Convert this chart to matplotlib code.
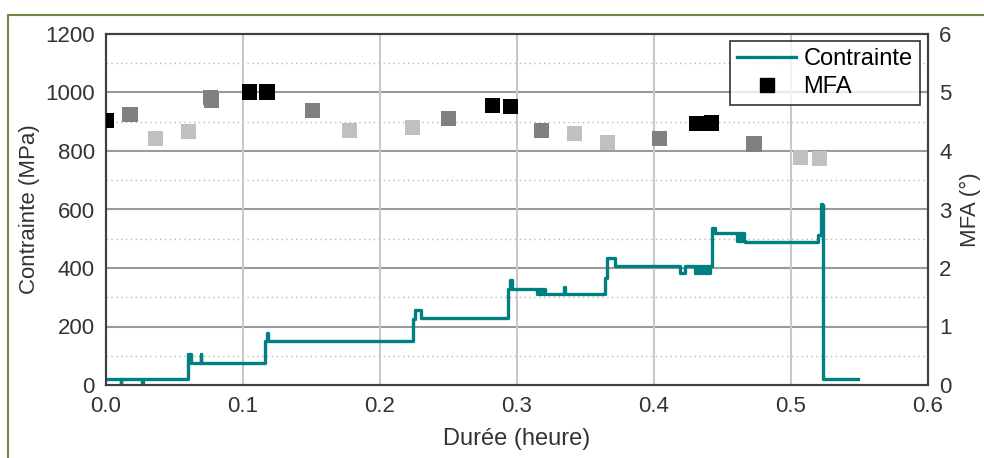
import numpy as np
import matplotlib
matplotlib.use("Agg")
import matplotlib.pyplot as plt
from matplotlib.lines import Line2D
from matplotlib.patches import Rectangle

plt.rcParams['font.family'] = ['Liberation Sans', 'DejaVu Sans']

# Contrainte (MPa), step series: value holds from t[i] to t[i+1]
temps = [0.0, 0.0107, 0.0112, 0.0265, 0.0270, 0.0600, 0.0617, 0.0691, 0.0697,
         0.1160, 0.1173, 0.1180, 0.2243, 0.2255, 0.2299,
         0.2937, 0.2950, 0.2962,
         0.3143, 0.3150, 0.3158, 0.3166, 0.3174, 0.3182, 0.3190, 0.3198, 0.3204,
         0.3343, 0.3350, 0.3642, 0.3660, 0.3715,
         0.4190, 0.4226,
         0.4300, 0.4310, 0.4320, 0.4330, 0.4345, 0.4360, 0.4375, 0.4390, 0.4400, 0.4409,
         0.4420, 0.4445,
         0.4608, 0.4616, 0.4624, 0.4632, 0.4640, 0.4648, 0.4656, 0.4664,
         0.5200, 0.5216, 0.5225, 0.5230, 0.5236, 0.5486]
contrainte = [20, 2, 20, 2, 20, 105, 75, 105, 75,
              150, 178, 150, 226, 257, 229,
              328, 360, 328,
              310, 328, 310, 328, 310, 328, 310, 328, 310,
              335, 310, 366, 434, 408,
              383, 408,
              383, 408, 383, 408, 383, 408, 383, 408, 383, 408,
              538, 518,
              491, 518, 491, 518, 491, 518, 491, 490,
              514, 620, 600, 615, 20, 20]

# MFA (deg) measurements, with grey level of each marker
mfa_t = [0.0, 0.0175, 0.036, 0.060, 0.0765, 0.077, 0.105, 0.1175, 0.151, 0.178,
         0.224, 0.250, 0.282, 0.2955, 0.318, 0.342, 0.366, 0.404, 0.431, 0.442,
         0.473, 0.507, 0.521]
mfa = [4.52, 4.62, 4.21, 4.33, 4.92, 4.86, 5.01, 5.01, 4.69, 4.35,
       4.40, 4.55, 4.78, 4.76, 4.35, 4.30, 4.14, 4.21, 4.47, 4.48,
       4.12, 3.89, 3.87]
mfa_gris = ['#000000', '#808080', '#c0c0c0', '#c0c0c0', '#808080', '#808080',
            '#000000', '#000000', '#808080', '#c0c0c0', '#c0c0c0', '#808080',
            '#000000', '#000000', '#808080', '#c0c0c0', '#c0c0c0', '#808080',
            '#000000', '#000000', '#808080', '#c0c0c0', '#c0c0c0']

teal = '#008080'
txt = '#333333'

fig = plt.figure(figsize=(9.84, 4.58), dpi=100)
ax = fig.add_axes([106/984, 1-385/458, (928-106)/984, (385-34)/458])

# grid
for yv in np.arange(100, 1200, 200):
    ax.axhline(yv, color='#b8b8b8', lw=1.0, ls=(0, (1, 2.5)), zorder=0)
for yv in np.arange(200, 1200, 200):
    ax.axhline(yv, color='#9a9a9a', lw=1.5, zorder=0)
for xv in np.arange(0.1, 0.6, 0.1):
    ax.axvline(xv, color='#c8c8c8', lw=1.5, zorder=0)

ax.plot(temps, contrainte, drawstyle='steps-post', color=teal, lw=2.4, zorder=3)

ax.set_xlim(0, 0.6)
ax.set_ylim(0, 1200)
ax.set_xticks(np.arange(0, 0.61, 0.1))
ax.set_xticklabels(['0.0', '0.1', '0.2', '0.3', '0.4', '0.5', '0.6'])
ax.set_yticks(np.arange(0, 1201, 200))
ax.tick_params(length=0, labelsize=16, colors=txt, pad=8)
ax.set_xlabel('Durée (heure)', fontsize=17, color=txt, labelpad=8)
ax.set_ylabel('Contrainte (MPa)', fontsize=16, color=txt, labelpad=4)
for sp in ax.spines.values():
    sp.set_color('#404040')
    sp.set_linewidth(1.5)

ax2 = ax.twinx()
ax2.scatter(mfa_t, mfa, marker='s', s=120, c=mfa_gris, linewidths=0, zorder=4)
ax2.set_ylim(0, 6)
ax2.set_yticks(range(0, 7))
ax2.tick_params(length=0, labelsize=16, colors=txt, pad=8)
ax2.set_ylabel('MFA (°)', fontsize=16, color=txt, labelpad=6)
for sp in ax2.spines.values():
    sp.set_color('#404040')
    sp.set_linewidth(1.5)

handles = [Line2D([], [], color=teal, lw=2.4),
           Line2D([], [], marker='s', color='black', ls='none', markersize=10.5)]
leg = ax2.legend(handles, ['Contrainte', 'MFA'], loc='upper right',
                 bbox_to_anchor=(0.99, 0.98), fontsize=17, frameon=True,
                 fancybox=False, edgecolor='black', handlelength=2.5,
                 handletextpad=0.3, borderpad=0.3, labelspacing=0.25,
                 borderaxespad=0)
leg.get_frame().set_linewidth(1.2)
leg.set_zorder(10)

# outer chart border
fig.add_artist(Rectangle((8/984, -0.2), 1.5, 0.2 + 1 - 15/458, fill=False,
                         edgecolor='#6e8b4a', lw=1.5, transform=fig.transFigure,
                         clip_on=False))

fig.savefig('out.png', dpi=100)
